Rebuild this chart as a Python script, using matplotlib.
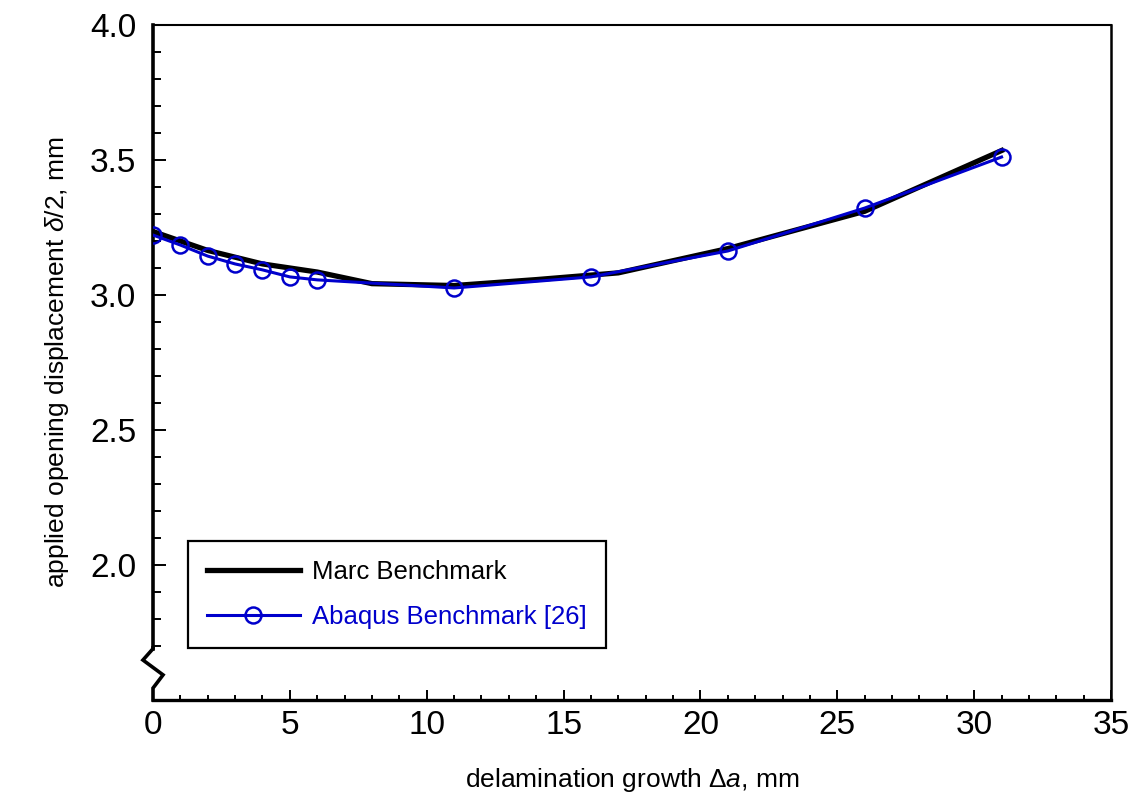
import matplotlib
matplotlib.use("Agg")
import matplotlib.pyplot as plt
from matplotlib.ticker import MultipleLocator, FixedLocator
import matplotlib.transforms as mtransforms

plt.rcParams['font.family'] = ['Liberation Sans', 'DejaVu Sans']
plt.rcParams['mathtext.fontset'] = 'custom'
plt.rcParams['mathtext.rm'] = 'Liberation Sans'
plt.rcParams['mathtext.it'] = 'Liberation Sans:italic'

# Marc benchmark (solid black)
marc_da = [0, 2, 4, 6, 8, 11, 14, 17, 21, 26, 31]
marc_delta = [3.235, 3.165, 3.115, 3.085, 3.042, 3.035, 3.057, 3.082, 3.172, 3.31, 3.535]

# Abaqus benchmark [26] (blue, open circles)
abq_da = [0, 1, 2, 3, 4, 5, 6, 11, 16, 21, 26, 31]
abq_delta = [3.222, 3.185, 3.144, 3.115, 3.093, 3.067, 3.056, 3.026, 3.067, 3.163, 3.322, 3.511]

blue = '#0000cc'

fig = plt.figure(figsize=(11.35, 8.01), dpi=100)
ax = fig.add_axes([0.1348, 0.1261, 0.8441, 0.8427])

ax.plot(marc_da, marc_delta, color='black', lw=3.8, label='Marc Benchmark',
        solid_joinstyle='miter', zorder=3)
ax.plot(abq_da, abq_delta, color=blue, lw=2.2, marker='o', ms=11.5,
        mfc='none', mec=blue, mew=1.8, label='Abaqus Benchmark [26]', zorder=4)

ax.set_xlim(0, 35)
ax.set_ylim(1.5, 4.0)

ax.xaxis.set_major_locator(MultipleLocator(5))
ax.xaxis.set_minor_locator(MultipleLocator(1))
ax.yaxis.set_major_locator(FixedLocator([2.0, 2.5, 3.0, 3.5, 4.0]))
ax.yaxis.set_minor_locator(FixedLocator([1.7 + 0.1 * i for i in range(23)]))
ax.yaxis.set_major_formatter(plt.FuncFormatter(lambda v, p: f"{v:.1f}"))

ax.tick_params(axis='both', which='both', direction='in', top=False, right=False,
               labelsize=24, color='black')
ax.tick_params(axis='y', which='major', length=9, width=1.4, pad=12)
ax.tick_params(axis='y', which='minor', length=6, width=1.4)
ax.tick_params(axis='x', which='major', length=7, width=1.4, pad=7)
ax.tick_params(axis='x', which='minor', length=3.5, width=1.4)

ax.spines['top'].set_linewidth(1.5)
ax.spines['right'].set_linewidth(1.8)
ax.spines['bottom'].set_linewidth(2.4)
ax.spines['left'].set_linewidth(2.6)
ax.spines['left'].set_bounds(1.69, 4.0)

# axis break symbol on the y axis
trans = mtransforms.blended_transform_factory(ax.transAxes, ax.transData)
ax.plot([0, 0, -0.0105, 0.0105, 0, 0],
        [1.693, 1.69, 1.648, 1.593, 1.544, 1.5],
        transform=trans, color='black', lw=2.6, clip_on=False,
        solid_joinstyle='miter', zorder=5)

ax.set_xlabel('delamination growth $\\Delta a$, mm', fontsize=19, labelpad=18)
ax.set_ylabel('applied opening displacement $\\delta$/2, mm', fontsize=19, labelpad=14)

leg = ax.legend(loc='lower left', bbox_to_anchor=(0.0365, 0.077), fontsize=18.5,
                frameon=True, fancybox=False, edgecolor='black', framealpha=1,
                handlelength=3.6, handletextpad=0.47, borderpad=0.75,
                labelspacing=0.8, borderaxespad=0)
leg.get_frame().set_linewidth(1.6)
for txt, col in zip(leg.get_texts(), ['black', blue]):
    txt.set_color(col)

fig.savefig('out.png', dpi=100)
